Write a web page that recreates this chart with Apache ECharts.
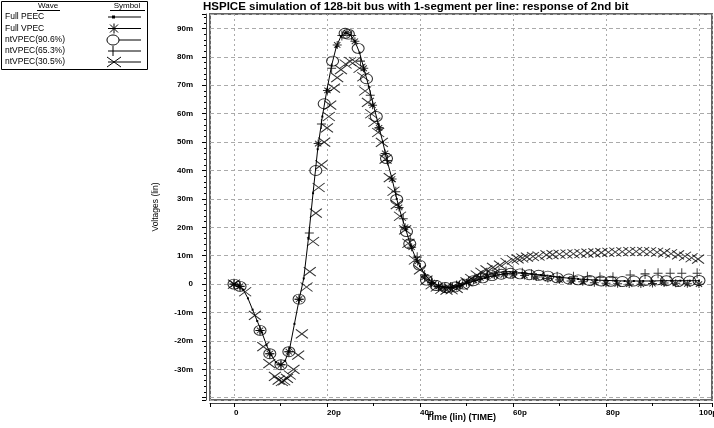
<!DOCTYPE html>
<html>
<head>
<meta charset="utf-8">
<script src="https://cdn.jsdelivr.net/npm/echarts@6/dist/echarts.min.js"></script>
<style>
  html, body { margin: 0; padding: 0; background: #fff; }
  #chart { width: 714px; height: 428px; }
</style>
</head>
<body>
<div id="chart"></div>
<script>
// series names, as in the legend box
const seriesNames = ['Full PEEC', 'Full VPEC', 'ntVPEC(90.6%)', 'ntVPEC(65.3%)', 'ntVPEC(30.5%)'];

// Full PEEC (solid line), time in ps, voltage in mV
const tPeec = [0,1,2,3,4,5,6,7,8,9,10,11,12,13,14,15,16,17,18,19,20,21,22,23,24,25,26,27,28,29,30,31,32,33,34,35,36,37,38,39,40,41,42,43,44,45,46,47,48,49,50,
  52,54,56,58,60,62,64,66,68,70,72,74,76,78,80,82,84,86,88,90,92,94,96,98,100];
const vPeec = [0,-0.5,-2,-5,-9,-13,-17,-21.5,-25,-27.5,-28.4,-27,-22.5,-14,-5.5,2,16,32,47.5,59,68.5,77,83.5,87.3,88.5,87.8,85.5,81.5,75.5,69.5,63,56.5,50,43,37,30,24,19,13.5,9.5,6.3,3.5,1.5,0.3,-0.5,-1,-1.2,-1.2,-0.8,-0.3,0.3,
  1.3,2.2,3,3.6,3.9,3.9,3.6,3.2,2.8,2.4,2.1,1.8,1.6,1.4,1.3,1.2,1.1,1.1,1.1,1.1,1.2,1.2,1.2,1.2,1.2];

// Full VPEC (asterisk)
const tVpec = [0,1.3,5.6,7.7,10.1,11.8,14,18.1,20.1,22.2,24.3,26,27.9,29.8,31.2,32.5,34,35.5,36.8,38.2,39.5,41,42.5,44,45.5,47,48.5,50,51.5,53,54.5,56,58,60,62.5,65,67.5,70,72.5,75,77.5,80,82.5,85,87.5,90,92.5,95,97.5,100];
const vVpec = [0,-0.8,-16.3,-24.5,-28.4,-23.8,-5.3,49.5,68.2,84.2,88.5,85.5,76,63,55,46,37,27,20,13,8,2.5,0.5,-0.8,-1.3,-1,-0.3,0.5,1.3,2.2,2.8,3.2,3.3,3.3,3,2.5,2,1.5,1.1,0.8,0.5,0.3,0.1,0,0,0.2,0.4,0.3,0.1,0];

// ntVPEC(90.6%) (circle)
const tNt906 = [0,1.3,5.6,7.7,10.1,11.8,14,17.6,19.4,21.2,23.9,24.6,26.7,28.5,30.6,32.8,35,37.1,37.8,39.9,41.4,43.5,45.5,47.5,49.5,51.5,53.5,55.5,57.5,59.5,61.5,63.5,65.5,67.5,69.5,72,74,76.5,79,81,83.5,86,88.5,91,93,95.5,98,100];
const vNt906 = [0,-0.8,-16.3,-24.5,-28.4,-23.8,-5.3,40,63.5,78.5,88.3,88,83,72.3,59,44.2,29.8,18.5,14.2,6.7,1.4,-0.5,-1.2,-1,0,1.2,2.2,3,3.5,3.8,3.6,3.3,3.1,2.8,2.2,1.8,1.5,1.3,1.1,1,0.9,1.1,1.3,1.5,1.2,0.9,1.1,1.3];

// ntVPEC(65.3%) (plus)
const tNt653 = [0,1.3,5.6,7.7,10.1,11.8,14,16.2,18.8,21,23.2,25.3,27.2,29.3,31.2,33,34.8,36.4,37.9,39.4,41,42.5,44,45.3,46.6,47.9,49.2,50.5,51.8,53.1,54.4,55.7,57,58.5,60,62,64,66.5,69.5,73,76,78.7,81.5,85.2,88.4,91.2,93.8,96.3,99.6];
const vNt653 = [0,-0.8,-16.3,-24.5,-28.4,-23.8,-5.3,18,56.4,76,87.5,87.5,78.5,66.5,55,43.5,32.5,23,15.5,9.5,3.2,0.5,-0.8,-1.3,-1,-0.5,0.2,1,1.8,2.6,3.3,3.8,4.2,4.4,4.4,4,3.5,3.1,2.6,2.6,2.6,2.4,2.4,3.2,3.6,3.8,3.8,3.8,3.8];

// ntVPEC(30.5%) (cross)
const tNt305 = [0,2.4,4.5,6.3,7.6,8.8,9.6,10.3,10.8,11.4,12,12.8,13.8,14.6,15.6,16.3,17,17.6,18.2,18.8,19.4,20,20.4,20.7,21.5,22.2,23,24,25,26,27,27.8,28.2,28.8,29.5,30.2,31,31.8,32.6,33.5,34.3,35,35.7,36.8,37.5,38.9,40,41.4,42.5,43.6,44.6,45.7,46.8,47.9,49,50,51,52.2,53.2,54.3,55.7,57.2,58.6,60,61,62,63,64.3,65.5,67.2,68.5,70,71.5,73,74.5,76,77.5,79,80.5,82,83.5,85,86.5,88,89.5,91,92.5,94,95.5,97,98.4,99.8];
const vNt305 = [0,-2.7,-11,-22,-28,-32.5,-33.8,-34.3,-34,-33.2,-32,-30,-25,-17.5,-1,4.4,15,25,34,42,50,55,59,63,69,72.7,75.5,77.5,78.4,78.4,76,73,68,64,60,57,53.4,49.9,44,37.5,32.7,28,23.9,19.1,14.4,8.5,5,1.4,-0.2,-1,-1.8,-2.1,-2,-1.5,-0.5,0.8,2,3.2,4.2,5,5.9,6.7,7.6,8.5,8.9,9.2,9.5,9.7,9.9,10.3,10.4,10.5,10.6,10.7,10.8,10.9,11,11.1,11.2,11.3,11.4,11.5,11.5,11.5,11.4,11.2,11,10.7,10.3,9.8,9.3,8.8];

const pairs = (t, v) => t.map((x, i) => [x, v[i]]);

const FONT = '"Liberation Sans", Arial, sans-serif';
const STAR = 'path://M5,0L5,10M0,5L10,5M1.5,1.5L8.5,8.5M8.5,1.5L1.5,8.5';
const PLUS = 'path://M5,0L5,10M0,5L10,5';
const CROSS = 'path://M0,0L10,10M10,0L0,10';

const hollow = { color: 'none', borderColor: '#000', borderWidth: 1 };

function markers(name, data, symbol, size) {
  return {
    name: name,
    type: 'scatter',
    data: data,
    symbol: symbol,
    symbolSize: size,
    itemStyle: hollow,
    emphasis: { disabled: true },
    z: 3
  };
}

// legend box drawn by hand (name on the left, symbol on the right)
const legendRowsY = [17, 28.5, 40, 51, 62];
const legendGraphic = [
  { type: 'rect', shape: { x: 1.5, y: 1.5, width: 146, height: 68 }, style: { fill: '#fff', stroke: '#000', lineWidth: 1 } },
  { type: 'text', x: 48, y: 6, style: { text: 'Wave', font: '8px ' + FONT, fill: '#000', align: 'center', verticalAlign: 'middle' } },
  { type: 'text', x: 127, y: 6, style: { text: 'Symbol', font: '8px ' + FONT, fill: '#000', align: 'center', verticalAlign: 'middle' } },
  { type: 'line', shape: { x1: 37, y1: 10.5, x2: 60, y2: 10.5 }, style: { stroke: '#000', lineWidth: 1 } },
  { type: 'line', shape: { x1: 110, y1: 10.5, x2: 145, y2: 10.5 }, style: { stroke: '#000', lineWidth: 1 } }
];
seriesNames.forEach((n, i) => {
  const y = legendRowsY[i];
  legendGraphic.push({ type: 'text', x: 5, y: y, style: { text: n, font: '8.5px ' + FONT, fill: '#000', verticalAlign: 'middle' } });
  legendGraphic.push({ type: 'line', shape: { x1: 108, y1: y, x2: 141, y2: y }, style: { stroke: '#000', lineWidth: 1 } });
});
const sx = 114;
legendGraphic.push(
  { type: 'rect', shape: { x: sx - 2, y: legendRowsY[0] - 1.5, width: 3, height: 3 }, style: { fill: '#000' } },
  { type: 'polyline', shape: { points: [[sx, legendRowsY[1] - 5], [sx, legendRowsY[1] + 5]] }, style: { stroke: '#000' } },
  { type: 'polyline', shape: { points: [[sx - 4, legendRowsY[1] - 4], [sx + 4, legendRowsY[1] + 4]] }, style: { stroke: '#000' } },
  { type: 'polyline', shape: { points: [[sx + 4, legendRowsY[1] - 4], [sx - 4, legendRowsY[1] + 4]] }, style: { stroke: '#000' } },
  { type: 'ellipse', shape: { cx: sx - 1, cy: legendRowsY[2], rx: 6, ry: 5 }, style: { fill: '#fff', stroke: '#000' } },
  { type: 'polyline', shape: { points: [[sx - 1, legendRowsY[3] - 5], [sx - 1, legendRowsY[3] + 5]] }, style: { stroke: '#000' } },
  { type: 'polyline', shape: { points: [[sx - 7, legendRowsY[4] - 5], [sx + 7, legendRowsY[4] + 5]] }, style: { stroke: '#000' } },
  { type: 'polyline', shape: { points: [[sx + 7, legendRowsY[4] - 5], [sx - 7, legendRowsY[4] + 5]] }, style: { stroke: '#000' } }
);

const chart = echarts.init(document.getElementById('chart'));

const option = {
  animation: false,
  title: {
    text: 'HSPICE simulation of 128-bit bus with 1-segment per line: response of 2nd bit',
    left: 203,
    top: 1,
    padding: 0,
    textStyle: { fontFamily: FONT, fontSize: 11.5, fontWeight: 'bold', color: '#000' }
  },
  graphic: legendGraphic,
  grid: {
    left: 210, right: 2, top: 14, bottom: 28,
    containLabel: false,
    outerBoundsMode: 'none',
    show: true, borderColor: '#666', borderWidth: 2, backgroundColor: 'transparent'
  },
  xAxis: {
    type: 'value',
    min: -5.16, max: 102.8,
    splitNumber: 5,
    offset: 3,
    name: 'Time (lin) (TIME)',
    nameLocation: 'middle',
    nameGap: 10,
    nameMoveOverlap: false,
    nameTextStyle: { fontFamily: FONT, fontSize: 9, fontWeight: 'bold', color: '#000' },
    axisLine: { onZero: false, lineStyle: { color: '#444', width: 1 } },
    axisTick: { length: 4, lineStyle: { color: '#000' } },
    minorTick: { show: true, splitNumber: 2, length: 3, lineStyle: { color: '#000' } },
    axisLabel: {
      fontFamily: FONT, fontSize: 8, fontWeight: 'bold', color: '#000',
      align: 'left', margin: 6,
      formatter: v => (Math.abs(v % 20) > 1e-6 ? '' : (v === 0 ? '0' : v + 'p'))
    },
    splitLine: { show: true, lineStyle: { color: '#aaa', type: [2, 3], width: 1 } }
  },
  yAxis: {
    type: 'value',
    min: -40.8, max: 95.1,
    splitNumber: 14,
    offset: 4,
    name: 'Voltages (lin)',
    nameLocation: 'middle',
    nameGap: 46,
    nameMoveOverlap: false,
    nameTextStyle: { fontFamily: FONT, fontSize: 8.5, color: '#000' },
    axisLine: { onZero: false, lineStyle: { color: '#444', width: 1 } },
    axisTick: { length: 4, lineStyle: { color: '#000' } },
    minorTick: { show: true, splitNumber: 5, length: 2, lineStyle: { color: '#000' } },
    axisLabel: {
      fontFamily: FONT, fontSize: 8, fontWeight: 'bold', color: '#000', margin: 13,
      formatter: v => (Math.abs(v % 10) > 1e-6 || v < -35 ? '' : (v === 0 ? '0' : v + 'm'))
    },
    splitLine: { show: true, lineStyle: { color: '#aaa', type: [4, 3], width: 1 } }
  },
  series: [
    {
      name: seriesNames[0],
      type: 'line',
      data: pairs(tPeec, vPeec),
      symbol: 'rect',
      symbolSize: 2,
      itemStyle: { color: '#000' },
      lineStyle: { color: '#000', width: 1 },
      emphasis: { disabled: true },
      z: 2
    },
    markers(seriesNames[1], pairs(tVpec, vVpec), STAR, [9, 8]),
    markers(seriesNames[2], pairs(tNt906, vNt906), 'circle', [12, 10]),
    markers(seriesNames[3], pairs(tNt653, vNt653), PLUS, [9, 10]),
    markers(seriesNames[4], pairs(tNt305, vNt305), CROSS, [12, 9])
  ]
};

chart.setOption(option);
</script>
</body>
</html>
